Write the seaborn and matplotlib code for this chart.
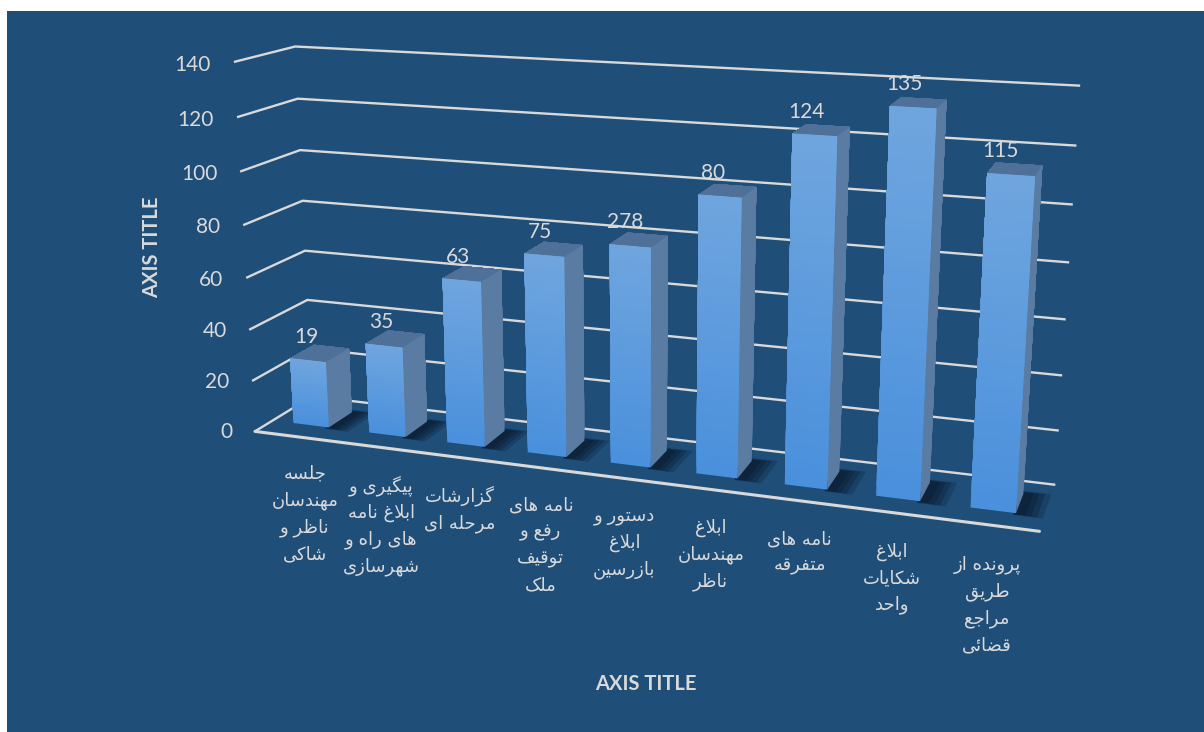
import numpy as np
import matplotlib
matplotlib.use("Agg")
import matplotlib.pyplot as plt
from matplotlib.colors import to_rgba
from matplotlib.patches import Rectangle
from mpl_toolkits.mplot3d import proj3d
import seaborn as sns

categories = [
    "جلسه\nمهندسان\nناظر و\nشاکی",
    "پیگیری و\nابلاغ نامه\nهای راه و\nشهرسازی",
    "گزارشات\nمرحله ای",
    "نامه های\nرفع و\nتوقیف\nملک",
    "دستور و\nابلاغ\nبازرسین",
    "ابلاغ\nمهندسان\nناظر",
    "نامه های\nمتفرقه",
    "ابلاغ\nشکایات\nواحد",
    "پرونده از\nطریق\nمراجع\nقضائی",
]
# bar heights, the printed labels do not always agree
heights = [26, 35, 63, 75, 81, 101, 124, 135, 115]
value_labels = ["19", "35", "63", "75", "278", "80", "124", "135", "115"]
z_ticks = [0, 20, 40, 60, 80, 100, 120, 140]
axis_title = "AXIS TITLE"

BG = "#1F4E79"
TEXT = "#D9D9D9"
FRONT_BOTTOM = "#4A90DC"
FRONT_TOP = "#6FA5DE"
SIDE = "#5A7CA3"
TOP = "#4F7199"
SHADOW = "#0B1E33"

# isolated, final, initial, medial presentation forms
FORMS = {
    "ا": (0xFE8D, 0xFE8E), "د": (0xFEA9, 0xFEAA), "ر": (0xFEAD, 0xFEAE),
    "ز": (0xFEAF, 0xFEB0), "و": (0xFEED, 0xFEEE),
    "ب": (0xFE8F, 0xFE90, 0xFE91, 0xFE92), "پ": (0xFB56, 0xFB57, 0xFB58, 0xFB59),
    "ت": (0xFE95, 0xFE96, 0xFE97, 0xFE98), "ج": (0xFE9D, 0xFE9E, 0xFE9F, 0xFEA0),
    "ح": (0xFEA1, 0xFEA2, 0xFEA3, 0xFEA4), "س": (0xFEB1, 0xFEB2, 0xFEB3, 0xFEB4),
    "ش": (0xFEB5, 0xFEB6, 0xFEB7, 0xFEB8), "ض": (0xFEBD, 0xFEBE, 0xFEBF, 0xFEC0),
    "ط": (0xFEC1, 0xFEC2, 0xFEC3, 0xFEC4), "ظ": (0xFEC5, 0xFEC6, 0xFEC7, 0xFEC8),
    "ع": (0xFEC9, 0xFECA, 0xFECB, 0xFECC), "غ": (0xFECD, 0xFECE, 0xFECF, 0xFED0),
    "ف": (0xFED1, 0xFED2, 0xFED3, 0xFED4), "ق": (0xFED5, 0xFED6, 0xFED7, 0xFED8),
    "ک": (0xFB8E, 0xFB8F, 0xFB90, 0xFB91), "گ": (0xFB92, 0xFB93, 0xFB94, 0xFB95),
    "ل": (0xFEDD, 0xFEDE, 0xFEDF, 0xFEE0), "م": (0xFEE1, 0xFEE2, 0xFEE3, 0xFEE4),
    "ن": (0xFEE5, 0xFEE6, 0xFEE7, 0xFEE8), "ه": (0xFEE9, 0xFEEA, 0xFEEB, 0xFEEC),
    "ی": (0xFBFC, 0xFBFD, 0xFBFE, 0xFBFF), "ئ": (0xFE89, 0xFE8A, 0xFE8B, 0xFE8C),
}


def shape_line(line):
    """matplotlib has no Arabic shaping, so pick the joined forms and reverse."""
    word = line.replace("لا", "\uFEFB")
    out = []
    for i, ch in enumerate(word):
        if ch == "\uFEFB":
            prev = word[i - 1] if i else " "
            joins = prev in FORMS and len(FORMS[prev]) == 4
            out.append("\uFEFC" if joins else ch)
            continue
        if ch not in FORMS:
            out.append(ch)
            continue
        prev = word[i - 1] if i else " "
        nxt = word[i + 1] if i + 1 < len(word) else " "
        after_prev = prev in FORMS and len(FORMS[prev]) == 4
        before_next = len(FORMS[ch]) == 4 and (nxt in FORMS or nxt == "\uFEFB")
        forms = FORMS[ch]
        if after_prev and before_next:
            out.append(chr(forms[3]))
        elif before_next:
            out.append(chr(forms[2]))
        elif after_prev:
            out.append(chr(forms[1]))
        else:
            out.append(chr(forms[0]))
    return "".join(reversed(out))


def shape(text):
    return "\n".join(shape_line(line) for line in text.split("\n"))


def label3d(ax, x, y, z, text, **kwargs):
    """Project a data point and put a plain 2D text there."""
    px, py, _ = proj3d.proj_transform(x, y, z, ax.get_proj())
    return ax.text2D(px, py, text, transform=ax.transData, **kwargs)


sns.set_theme(style="white", font="Lato")
plt.rcParams["font.family"] = ["Lato", "DejaVu Sans"]

fig = plt.figure(figsize=(12.04, 7.32), dpi=100, facecolor="white")
fig.add_artist(Rectangle((7 / 1204, 0), 1197 / 1204, 721 / 732,
                         transform=fig.transFigure, facecolor=BG, edgecolor="none", zorder=-1))

ax = fig.add_axes([125.5 / 1204, (732 - 784) / 732, 1000 / 1204, 1000 / 732],
                  projection="3d", computed_zorder=False)
ax.patch.set_alpha(0)
ax.set_proj_type("persp", focal_length=0.335)
ax.view_init(elev=14.7, azim=-70.8)
ax.set_box_aspect((1.537, 0.23, 0.737), zoom=0.898)
ax.set_xlim(0, 9.04)
ax.set_ylim(0, 1)
ax.set_zlim(0, 140)

ax.set_xticks([])
ax.set_yticks([])
ax.set_zticks(z_ticks)
ax.set_zticklabels([])
for axis in (ax.xaxis, ax.yaxis, ax.zaxis):
    axis.set_pane_color((0, 0, 0, 0))
    axis.pane.set_edgecolor("none")
    axis._axinfo["tick"].update(inward_factor=0, outward_factor=0)
ax.grid(True)
ax.zaxis._axinfo["grid"].update(color=TEXT, linewidth=1.7)
ax.xaxis.line.set_color(TEXT)
ax.xaxis.line.set_linewidth(2.2)
ax.yaxis.line.set_color((0, 0, 0, 0))
ax.zaxis.line.set_color((0, 0, 0, 0))

x = np.arange(len(categories)) + 0.28
bar_w = 0.47
bar_y = 0.3
bar_d = 0.42
heights = np.array(heights, dtype=float)
n = len(x)

# soft floor shadow, a few overlapping sheets
for extra, alpha in [(0.3, 0.14), (0.24, 0.18), (0.18, 0.22), (0.12, 0.3)]:
    grow = extra * 0.35
    ax.bar3d(x + bar_w - 0.02, np.full(n, bar_y - grow * 0.4), np.zeros(n), extra, bar_d + grow, 0.01,
             color=to_rgba(SHADOW, alpha), shade=False, linewidth=0, zorder=1)

# front face fades upward, each step repaints the bar from a higher base
steps = 40
ramp = sns.blend_palette([FRONT_BOTTOM, FRONT_TOP], steps)
hidden = (0, 0, 0, 0)
for k in range(steps):
    base = heights * k / steps
    colors = [hidden, TOP, ramp[k], hidden, hidden, SIDE] * n
    ax.bar3d(x, np.full(n, bar_y), base, bar_w, bar_d, heights - base,
             color=colors, shade=False, linewidth=0, zorder=2 + k)

for xi, h, lab in zip(x, heights, value_labels):
    label3d(ax, xi + 0.10, 0.45, h + 3, lab, color=TEXT, fontsize=15,
            ha="center", va="bottom", zorder=60)

for xi, cat in zip(x, categories):
    label3d(ax, xi + 0.217, 0.185, -14.3, shape(cat), color=TEXT, fontsize=13,
            family="DejaVu Sans", ha="center", va="top", linespacing=1.6, zorder=60)

for tick in z_ticks:
    label3d(ax, -0.30, 0, tick - 1.5, str(tick), color=TEXT, fontsize=15,
            ha="right", va="center", zorder=60)

fig.text(646 / 1204, 1 - 684 / 732, axis_title, color=TEXT, fontsize=14.5, fontweight="bold",
         ha="center", va="center")
fig.text(152 / 1204, 1 - 247 / 732, axis_title, color=TEXT, fontsize=14.5, fontweight="bold",
         rotation=90, ha="center", va="center")

fig.savefig("out.png", dpi=100)
